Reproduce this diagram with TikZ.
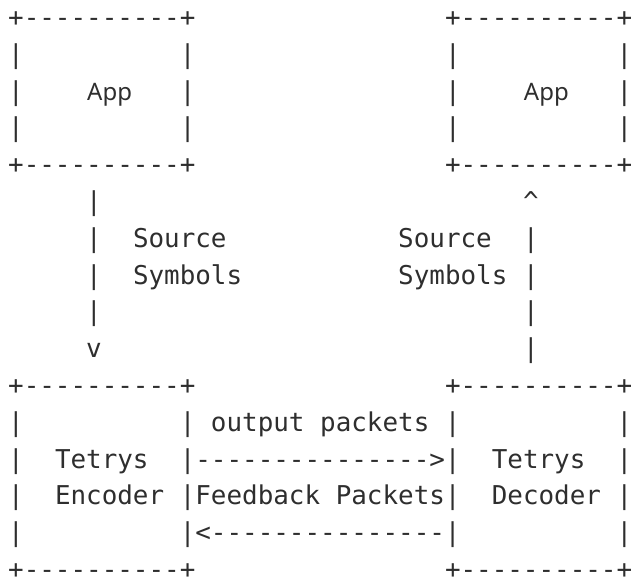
\documentclass[tikz,border=0pt]{standalone}
\usepackage{fontspec}
\setmonofont{DejaVu Sans Mono}
\setsansfont{Noto Sans}
\definecolor{ink}{HTML}{2E2E2E}
\tikzset{
  mono/.style={font=\ttfamily\fontsize{25.91pt}{30pt}\selectfont, anchor=base west, inner sep=0pt, outer sep=0pt, text=ink},
  apptxt/.style={font=\sffamily\fontsize{24pt}{28pt}\selectfont, anchor=base, inner sep=0pt, outer sep=0pt, text=ink}
}
\begin{document}
\begin{tikzpicture}
\useasboundingbox (0pt,0pt) rectangle (631pt,-579pt);
\begin{scope}[shift={(8.2pt,-26.5pt)}, x=15.6pt, y=-36.8pt]
% App boxes
\node[mono] (laTop) at (0,0) {+----------+};
\node[mono] (raTop) at (28,0) {+----------+};
\foreach \r in {1,2,3}{
  \node[mono] (laL\r) at (0,\r) {|};
  \node[mono] (laR\r) at (11,\r) {|};
  \node[mono] (raL\r) at (28,\r) {|};
  \node[mono] (raR\r) at (39,\r) {|};
}
\node[apptxt] (lapp) at (6.5,2) {App};
\node[apptxt] (rapp) at (34.5,2) {App};
\node[mono] (laBot) at (0,4) {+----------+};
\node[mono] (raBot) at (28,4) {+----------+};
% vertical flows
\node[mono] (dl5) at (5,5) {|};
\node[mono] (ur5) at (33,5) {\^{}};
\node[mono] (dl6) at (5,6) {|};
\node[mono] (src1) at (8,6) {Source};
\node[mono] (src2) at (25,6) {Source};
\node[mono] (ur6) at (33,6) {|};
\node[mono] (dl7) at (5,7) {|};
\node[mono] (sym1) at (8,7) {Symbols};
\node[mono] (sym2) at (25,7) {Symbols};
\node[mono] (ur7) at (33,7) {|};
\node[mono] (dl8) at (5,8) {|};
\node[mono] (ur8) at (33,8) {|};
\node[mono] (dl9) at (5,9) {v};
\node[mono] (ur9) at (33,9) {|};
% Tetrys boxes
\node[mono] (leTop) at (0,10) {+----------+};
\node[mono] (rdTop) at (28,10) {+----------+};
\foreach \r in {11,12,13,14}{
  \node[mono] (leL\r) at (0,\r) {|};
  \node[mono] (rdR\r) at (39,\r) {|};
}
\node[mono] (out) at (11,11) {| output packets |};
\node[mono] (enc1) at (3,12) {Tetrys};
\node[mono] (fwd) at (11,12) {|--------------->|};
\node[mono] (dec1) at (31,12) {Tetrys};
\node[mono] (enc2) at (3,13) {Encoder};
\node[mono] (fb) at (11,13) {|Feedback Packets|};
\node[mono] (dec2) at (31,13) {Decoder};
\node[mono] (bwd) at (11,14) {|<---------------|};
\node[mono] (leBot) at (0,15) {+----------+};
\node[mono] (rdBot) at (28,15) {+----------+};
\end{scope}
\end{tikzpicture}
\end{document}
